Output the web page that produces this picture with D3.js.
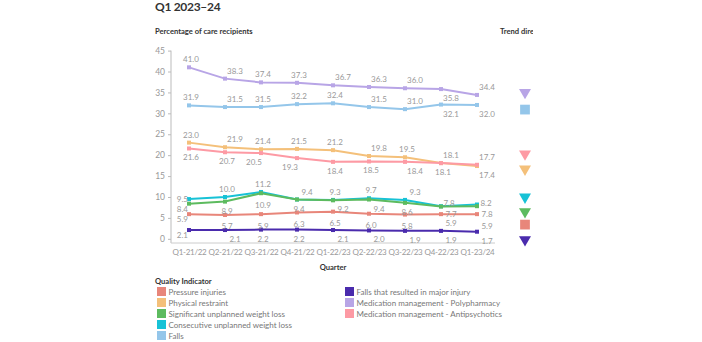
<!DOCTYPE html>
<html>
<head>
<meta charset="utf-8">
<script src="https://cdn.jsdelivr.net/npm/d3@7"></script>
<style>
  body { margin: 0; background: #fff; }
  svg text { font-family: Lato, "Open Sans", sans-serif; }
</style>
</head>
<body>
<div id="chart"></div>
<script>
// quarters on the x axis
var quarters = ["Q1-21/22", "Q2-21/22", "Q3-21/22", "Q4-21/22", "Q1-22/23", "Q2-22/23", "Q3-22/23", "Q4-22/23", "Q1-23/24"];

// values per indicator (%)
var pressureInjuries = [5.9, 5.7, 5.9, 6.3, 6.5, 6.0, 5.8, 5.9, 5.9];
var physicalRestraint = [23.0, 21.9, 21.4, 21.5, 21.2, 19.8, 19.5, 18.1, 17.4];
var significantLoss = [8.4, 8.9, 10.9, 9.4, 9.2, 9.4, 8.6, 7.7, 7.8];
var consecutiveLoss = [9.5, 10.0, 11.2, 9.4, 9.3, 9.7, 9.3, 7.8, 8.2];
var falls = [31.9, 31.5, 31.5, 32.2, 32.4, 31.5, 31.0, 32.1, 32.0];
var fallsMajor = [2.1, 2.1, 2.2, 2.2, 2.1, 2.0, 1.9, 1.9, 1.7];
var polypharmacy = [41.0, 38.3, 37.4, 37.3, 36.7, 36.3, 36.0, 35.8, 34.4];
var antipsychotics = [21.6, 20.7, 20.5, 19.3, 18.4, 18.5, 18.4, 18.1, 17.7];

var names = ["Pressure injuries", "Physical restraint", "Significant unplanned weight loss",
  "Consecutive unplanned weight loss", "Falls", "Falls that resulted in major injury",
  "Medication management - Polypharmacy", "Medication management - Antipsychotics"];

// trend direction per indicator, and where its marker sits (in % units)
var trend = ["same", "down", "down", "down", "same", "down", "down", "down"];
var trendPos = [3.4, 16.7, 6.5, 10.0, 30.9, -0.2, 35.0, 20.3];

var yTicks = [0, 5, 10, 15, 20, 25, 30, 35, 40, 45];

var colors = ["#e8867a", "#f4c07a", "#5dbb5f", "#17c2d6", "#94c6ea", "#4a2bad", "#b8a5e6", "#fd9aa4"];

// label placement (style) for each point
var placement = [
  ["lb", "bb", "bb", "bb", "bb", "bb", "bb", "br", "brr"],
  ["t", "tr", "t", "t", "t", "tr", "t", "tr", "br"],
  ["lb", "b", "bb", "b", "br", "br", "b", "rb", "rb"],
  ["l", "t", "t", "tr", "t", "t", "tr", "rt", "r"],
  ["t", "tr", "t", "t", "t", "tr", "tr", "br", "br"],
  ["lb", "br", "b", "b", "br", "br", "br", "br", "br"],
  ["t", "tr", "t", "t", "tr", "tr", "tr", "br", "tr"],
  ["b", "b", "bl", "bl", "b", "b", "br", "b", "tr"]
];

var seriesValues = [pressureInjuries, physicalRestraint, significantLoss, consecutiveLoss,
  falls, fallsMajor, polypharmacy, antipsychotics];

var series = names.map(function(n, i) {
  return {name: n, color: colors[i], values: seriesValues[i], place: placement[i],
    trend: trend[i], pos: trendPos[i]};
});

var w = 702, h = 342;

var svg = d3.select("#chart").append("svg")
  .attr("width", w)
  .attr("height", h);

var x = d3.scalePoint()
  .domain(quarters)
  .range([171, 495])
  .padding(0.5);

var y = d3.scaleLinear()
  .domain([-1, 45])
  .range([243, 50.6]);

// titles
svg.append("text")
  .attr("x", 155).attr("y", 11)
  .attr("font-size", 12).attr("font-weight", 700).attr("fill", "#333")
  .attr("letter-spacing", -0.3)
  .text("Q1 2023–24");

svg.append("text")
  .attr("x", 155).attr("y", 34)
  .attr("font-size", 7.6).attr("font-weight", 700).attr("fill", "#333")
  .text("Percentage of care recipients");

svg.append("clipPath").attr("id", "clipTrend")
  .append("rect").attr("x", 495).attr("y", 20).attr("width", 38).attr("height", 20);

svg.append("text")
  .attr("x", 500).attr("y", 34)
  .attr("clip-path", "url(#clipTrend)")
  .attr("font-size", 7.6).attr("font-weight", 700).attr("fill", "#333")
  .text("Trend direction");

// y axis
var yAxis = d3.axisLeft(y).tickValues(yTicks).tickSize(3).tickPadding(3);
var gy = svg.append("g")
  .attr("transform", "translate(171,0)")
  .call(yAxis);
gy.select(".domain").attr("stroke", "#bbb").attr("d", "M0," + y(45) + "V" + y(-1));
gy.selectAll(".tick line").attr("stroke", "#bbb");
gy.selectAll(".tick text").attr("fill", "#999").attr("font-size", 8.5).attr("font-family", "Lato, sans-serif");

// x axis
var xAxis = d3.axisBottom(x).tickSize(0).tickPadding(6);
var gx = svg.append("g")
  .attr("transform", "translate(0," + y(-1) + ")")
  .call(xAxis);
gx.select(".domain").attr("stroke", "#ccc").attr("d", "M171,0H495");
gx.selectAll(".tick text").attr("fill", "#999").attr("font-size", 8)
  .attr("letter-spacing", -0.3).attr("font-family", "Lato, sans-serif");

svg.append("text")
  .attr("x", 333).attr("y", 270)
  .attr("text-anchor", "middle")
  .attr("font-size", 7.6).attr("font-weight", 700).attr("fill", "#333")
  .text("Quarter");

// lines
var line = d3.line()
  .x(function(d, i) { return x(quarters[i]); })
  .y(function(d) { return y(d); });

var drawOrder = [4, 6, 1, 7, 3, 2, 0, 5];

drawOrder.forEach(function(si) {
  var s = series[si];
  var g = svg.append("g");
  g.append("path")
    .attr("d", line(s.values))
    .attr("fill", "none")
    .attr("stroke", s.color)
    .attr("stroke-width", 2);
  g.selectAll("rect")
    .data(s.values)
    .enter().append("rect")
    .attr("x", function(d, i) { return x(quarters[i]) - 2; })
    .attr("y", function(d) { return y(d) - 2; })
    .attr("width", 4).attr("height", 4)
    .attr("fill", s.color);
});

// value labels
var offs = {
  t:   {dx: 2,  dy: -5,   anchor: "middle"},
  tr:  {dx: 10, dy: -5,   anchor: "middle"},
  b:   {dx: 2,  dy: 12,   anchor: "middle"},
  bb:  {dx: 2,  dy: 14.5, anchor: "middle"},
  br:  {dx: 10, dy: 12,   anchor: "middle"},
  brr: {dx: 10, dy: 14.5, anchor: "middle"},
  bl:  {dx: -7, dy: 12,   anchor: "middle"},
  l:   {dx: -1, dy: 2.7,  anchor: "end"},
  lb:  {dx: -1, dy: 8,    anchor: "end"},
  rt:  {dx: 8,  dy: 0,    anchor: "middle"},
  r:   {dx: 9,  dy: 1.5,  anchor: "middle"},
  rb:  {dx: 10, dy: 10.5, anchor: "middle"}
};

series.forEach(function(s) {
  svg.append("g").selectAll("text")
    .data(s.values)
    .enter().append("text")
    .attr("x", function(d, i) { return x(quarters[i]) + offs[s.place[i]].dx; })
    .attr("y", function(d, i) { return y(d) + offs[s.place[i]].dy; })
    .attr("text-anchor", function(d, i) { return offs[s.place[i]].anchor; })
    .attr("font-size", 8)
    .attr("fill", "#999")
    .text(function(d) { return d.toFixed(1); });
});

// trend direction markers
var tri = d3.symbol().type(d3.symbolTriangle).size(62);
var sq = d3.symbol().type(d3.symbolSquare).size(95);

series.forEach(function(s) {
  var cy = y(s.pos);
  svg.append("path")
    .attr("d", s.trend == "down" ? tri() : sq())
    .attr("transform", "translate(525," + cy + ")" + (s.trend == "down" ? " rotate(180)" : ""))
    .attr("fill", s.color);
});

// legend
svg.append("text")
  .attr("x", 155).attr("y", 284)
  .attr("font-size", 7.6).attr("font-weight", 700).attr("fill", "#333")
  .text("Quality Indicator");

var legendCols = [[0, 1, 2, 3, 4], [5, 6, 7]];
legendCols.forEach(function(col, ci) {
  var lx = ci == 0 ? 157 : 345;
  col.forEach(function(si, ri) {
    var ly = 291.5 + ri * 11;
    svg.append("rect")
      .attr("x", lx).attr("y", ly - 4.5)
      .attr("width", 9).attr("height", 9)
      .attr("fill", series[si].color);
    svg.append("text")
      .attr("x", lx + 11.5).attr("y", ly + 3)
      .attr("font-size", 8).attr("fill", "#777")
      .text(series[si].name);
  });
});
</script>
</body>
</html>
